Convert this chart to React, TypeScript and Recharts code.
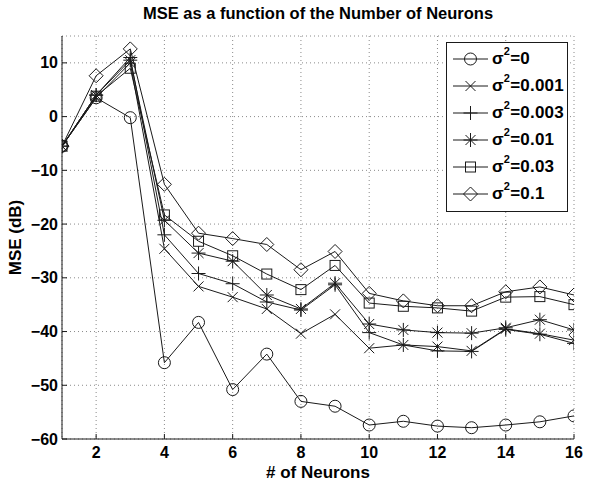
import React from 'react';
import { LineChart, Line, XAxis, YAxis, CartesianGrid, Legend, Label } from 'recharts';

// values (dB)
const neurons = [1, 2, 3, 4, 5, 6, 7, 8, 9, 10, 11, 12, 13, 14, 15, 16];
const mseVar0 = [-5.5, 3.5, -0.2, -45.8, -38.3, -50.8, -44.2, -53.0, -53.9, -57.4, -56.7, -57.6, -57.9, -57.4, -56.8, -55.7];
const mseVar001 = [-5.5, 3.5, 10.0, -24.6, -31.6, -33.6, -35.8, -40.4, -36.8, -43.1, -42.5, -42.8, -43.6, -39.5, -40.4, -41.6];
const mseVar003 = [-5.5, 4.0, 11.0, -22.0, -29.2, -31.1, -34.5, -36.0, -31.3, -40.2, -42.5, -43.6, -43.7, -39.6, -40.5, -42.2];
const mseVar01 = [-5.5, 4.0, 10.5, -19.3, -25.4, -26.9, -33.2, -35.8, -31.0, -38.6, -39.7, -40.2, -40.3, -39.3, -37.8, -39.7];
const mseVar03 = [-5.5, 3.8, 9.0, -18.3, -23.2, -25.9, -29.3, -32.2, -27.7, -34.7, -35.3, -35.6, -36.2, -33.6, -33.5, -35.0];
const mseVar1 = [-5.5, 7.6, 12.6, -12.6, -21.7, -22.7, -23.8, -28.5, -25.1, -32.9, -34.3, -35.2, -35.2, -32.6, -31.7, -33.2];

const variances = ['0', '0.001', '0.003', '0.01', '0.03', '0.1'];
const xTicks = [2, 4, 6, 8, 10, 12, 14, 16];
const yTicks = [-60, -50, -40, -30, -20, -10, 0, 10];

type Shape = 'circle' | 'x' | 'plus' | 'star' | 'square' | 'diamond';
const shapes: Shape[] = ['circle', 'x', 'plus', 'star', 'square', 'diamond'];
const keys = ['v0', 'v001', 'v003', 'v01', 'v03', 'v1'];

const data = neurons.map((n, i) => ({
  n,
  v0: mseVar0[i],
  v001: mseVar001[i],
  v003: mseVar003[i],
  v01: mseVar01[i],
  v03: mseVar03[i],
  v1: mseVar1[i],
}));

const INK = '#1a1a1a';
const FONT = '"Liberation Sans", Arial, Helvetica, sans-serif';

const Marker = ({ cx, cy, shape }: { cx: number; cy: number; shape: Shape }) => {
  const s = { fill: 'none', stroke: INK, strokeWidth: 1 };
  switch (shape) {
    case 'circle':
      return <circle cx={cx} cy={cy} r={6} {...s} />;
    case 'x':
      return <path d={`M${cx - 5},${cy - 5}L${cx + 5},${cy + 5}M${cx - 5},${cy + 5}L${cx + 5},${cy - 5}`} {...s} />;
    case 'plus':
      return <path d={`M${cx - 7},${cy}L${cx + 7},${cy}M${cx},${cy - 7}L${cx},${cy + 7}`} {...s} />;
    case 'star':
      return (
        <path
          d={`M${cx - 7},${cy}L${cx + 7},${cy}M${cx},${cy - 7}L${cx},${cy + 7}M${cx - 5},${cy - 5}L${cx + 5},${cy + 5}M${cx - 5},${cy + 5}L${cx + 5},${cy - 5}`}
          {...s}
        />
      );
    case 'square':
      return <rect x={cx - 5} y={cy - 5} width={10} height={10} {...s} />;
    default:
      return <path d={`M${cx},${cy - 7}L${cx + 7},${cy}L${cx},${cy + 7}L${cx - 7},${cy}Z`} {...s} />;
  }
};

const tickText = { fontFamily: FONT, fontWeight: 700, fontSize: 16, fill: '#000' };
const fmt = (v: number) => (v < 0 ? `\u2212${Math.abs(v)}` : `${v}`);

// bottom axis: label + inward tick
const BottomTick = (props: any) => {
  const { x, y, payload } = props;
  const axisY = y - 8;
  return (
    <g>
      <line x1={x} x2={x} y1={axisY} y2={axisY - 5} stroke={INK} />
      <text x={x} y={y} dy="0.71em" textAnchor="middle" {...tickText}>{fmt(payload.value)}</text>
    </g>
  );
};

const LeftTick = (props: any) => {
  const { x, y, payload } = props;
  const axisX = x + 4;
  return (
    <g>
      <line x1={axisX} x2={axisX + 5} y1={y} y2={y} stroke={INK} />
      <text x={x} y={y} dy="0.35em" textAnchor="end" {...tickText}>{fmt(payload.value)}</text>
    </g>
  );
};

const TopTick = (props: any) => {
  const { x, y } = props;
  return <line x1={x} x2={x} y1={y} y2={y + 5} stroke={INK} />;
};

const RightTick = (props: any) => {
  const { x, y } = props;
  return <line x1={x} x2={x - 5} y1={y} y2={y} stroke={INK} />;
};

const labelText = { fontFamily: FONT, fontWeight: 700, fontSize: 17, fill: '#000' };

const XTitle = ({ viewBox }: any) => (
  <text x={viewBox.x + viewBox.width / 2} y={viewBox.y + viewBox.height - 6} textAnchor="middle" {...labelText}>
    # of Neurons
  </text>
);

const YTitle = ({ viewBox }: any) => {
  const cx = viewBox.x + 15.5;
  const cy = viewBox.y + viewBox.height / 2;
  return (
    <text x={cx} y={cy} dy="0.35em" textAnchor="middle" transform={`rotate(-90 ${cx} ${cy})`} {...labelText}>
      MSE (dB)
    </text>
  );
};

const LegendBox = () => (
  <div
    style={{
      width: 120,
      height: 166,
      border: `1px solid ${INK}`,
      background: '#fff',
      fontFamily: FONT,
      fontWeight: 700,
      fontSize: 17,
      color: '#000',
      boxSizing: 'content-box',
      paddingTop: 2,
    }}
  >
    {variances.map((v, i) => (
      <div key={v} style={{ display: 'flex', alignItems: 'center', height: 27 }}>
        <svg width={45} height={20} style={{ flex: 'none' }}>
          <line x1={6} x2={41} y1={10} y2={10} stroke={INK} />
          <Marker cx={23.5} cy={10} shape={shapes[i]} />
        </svg>
        <span style={{ whiteSpace: 'nowrap', letterSpacing: 0.2 }}>
          σ<sup style={{ fontSize: 11, verticalAlign: 'top', position: 'relative', top: -4 }}>2</sup>={v}
        </span>
      </div>
    ))}
  </div>
);

export default function App() {
  return (
    <div style={{ position: 'absolute', left: 0, top: 0, width: 600, height: 484, background: '#fff' }}>
      <div
        style={{
          position: 'absolute',
          left: 62,
          width: 512,
          top: 3,
          textAlign: 'center',
          fontFamily: FONT,
          fontWeight: 700,
          fontSize: 16.5,
          lineHeight: '20px',
          color: '#000',
        }}
      >
        MSE as a function of the Number of Neurons
      </div>
      <LineChart width={600} height={484} data={data} margin={{ top: 36, right: 26, bottom: 0, left: 0 }}>
        <CartesianGrid stroke="#8a8a8a" strokeDasharray="1 3" />
        <XAxis
          dataKey="n"
          type="number"
          domain={[1, 16]}
          ticks={xTicks}
          allowDataOverflow
          height={45}
          tickSize={0}
          tickMargin={8}
          tickLine={false}
          axisLine={{ stroke: INK }}
          tick={<BottomTick />}
          interval={0}
        >
          <Label content={<XTitle />} />
        </XAxis>
        <XAxis
          xAxisId="top"
          orientation="top"
          dataKey="n"
          type="number"
          domain={[1, 16]}
          ticks={xTicks}
          allowDataOverflow
          height={0}
          tickSize={0}
          tickMargin={0}
          tickLine={false}
          axisLine={{ stroke: INK }}
          tick={<TopTick />}
          interval={0}
        />
        <YAxis
          type="number"
          domain={[-60, 15]}
          ticks={yTicks}
          allowDataOverflow
          width={62}
          tickSize={0}
          tickMargin={4}
          tickLine={false}
          axisLine={{ stroke: INK }}
          tick={<LeftTick />}
          interval={0}
        >
          <Label content={<YTitle />} />
        </YAxis>
        <YAxis
          yAxisId="right"
          orientation="right"
          type="number"
          domain={[-60, 15]}
          ticks={yTicks}
          allowDataOverflow
          width={0}
          tickSize={0}
          tickMargin={0}
          tickLine={false}
          axisLine={{ stroke: INK }}
          tick={<RightTick />}
          interval={0}
        />
        {keys.map((k, i) => (
          <Line
            key={k}
            dataKey={k}
            name={`σ²=${variances[i]}`}
            stroke={INK}
            strokeWidth={1}
            isAnimationActive={false}
            dot={(p: any) => <Marker key={`${k}-${p.index}`} cx={p.cx} cy={p.cy} shape={shapes[i]} />}
            activeDot={false}
          />
        ))}
        <Legend
          layout="vertical"
          align="center"
          verticalAlign="middle"
          wrapperStyle={{ position: 'absolute', left: 446, top: 42, width: 122, height: 168 }}
          content={() => <LegendBox />}
        />
      </LineChart>
    </div>
  );
}
